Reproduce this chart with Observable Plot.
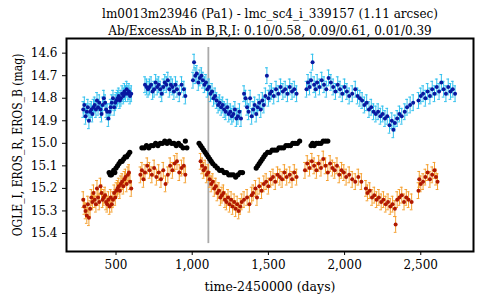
<!DOCTYPE html>
<html>
<head>
<meta charset="utf-8">
<script src="https://cdn.jsdelivr.net/npm/d3@7"></script>
<script src="https://cdn.jsdelivr.net/npm/@observablehq/plot@0.6"></script>
<style>
html,body{margin:0;padding:0;background:#fff;}
svg{display:block;}
</style>
</head>
<body>
<div id="chart"></div>
<script>
const titleLines = ["lm0013m23946 (Pa1) - lmc_sc4_i_339157 (1.11 arcsec)",
  "Ab/ExcessAb in B,R,I: 0.10/0.58, 0.09/0.61, 0.01/0.39"];
const xLabel = "time-2450000 (days)";
const yLabel = "OGLE_I, EROS_R, EROS_B (mag)";
const xTicks = [500, 1000, 1500, 2000, 2500];
const yTicks = [14.6, 14.7, 14.8, 14.9, 15.0, 15.1, 15.2, 15.3, 15.4];
const xDomain = [175, 2846];
const yDomain = [14.535, 15.48];
const markerDay = 1106;
const blueErr = 0.035;
const redErr = 0.035;

// EROS_B: [time, mag]
const erosB = [
 [285,14.85],[292,14.83],[300,14.88],[308,14.86],[315,14.84],[322,14.90],[330,14.86],[338,14.85],[345,14.87],[352,14.84],
 [360,14.83],[368,14.85],[375,14.81],[382,14.84],[390,14.82],[398,14.85],[405,14.87],[412,14.83],[420,14.80],[428,14.82],
 [435,14.85],[442,14.86],[450,14.89],[458,14.86],[465,14.84],[472,14.82],[480,14.80],[488,14.84],[495,14.82],[502,14.81],
 [510,14.80],[518,14.79],[525,14.81],[532,14.80],[540,14.78],[548,14.79],[555,14.77],[562,14.78],[570,14.76],[578,14.78],
 [585,14.77],[592,14.79],[600,14.78],
 [690,14.74],[700,14.75],[710,14.76],[720,14.75],[730,14.74],[740,14.77],[750,14.76],[760,14.73],[770,14.75],[780,14.74],
 [790,14.76],[800,14.78],[810,14.75],[820,14.73],[830,14.74],[840,14.72],[850,14.76],[860,14.74],[870,14.75],[880,14.77],
 [890,14.74],[900,14.76],[915,14.78],[930,14.74],[945,14.76],[955,14.79],
 [1005,14.72],[1012,14.64],[1020,14.70],[1030,14.69],[1040,14.73],[1050,14.71],[1060,14.70],[1070,14.72],[1080,14.74],[1090,14.73],
 [1100,14.76],[1110,14.75],[1120,14.78],[1130,14.77],[1140,14.80],[1150,14.79],[1160,14.81],[1170,14.83],[1180,14.82],[1190,14.84],
 [1200,14.83],[1210,14.85],[1220,14.86],[1230,14.84],[1240,14.87],[1250,14.86],[1260,14.88],[1270,14.87],[1280,14.85],[1290,14.89],
 [1300,14.88],[1310,14.86],[1320,14.89],
 [1340,14.78],[1350,14.80],[1360,14.84],[1370,14.86],[1380,14.80],[1390,14.88],[1400,14.85],[1410,14.83],[1420,14.87],[1430,14.84],
 [1440,14.82],[1450,14.85],[1460,14.81],[1470,14.83],[1480,14.79],[1490,14.70],[1500,14.80],[1510,14.78],[1520,14.77],[1535,14.79],
 [1550,14.76],[1565,14.78],[1580,14.75],[1595,14.77],[1610,14.76],[1625,14.78],[1640,14.75],[1655,14.77],[1670,14.76],[1685,14.78],
 [1750,14.76],[1760,14.73],[1770,14.75],[1780,14.72],[1790,14.64],[1800,14.74],[1810,14.76],[1820,14.73],[1835,14.75],[1850,14.72],
 [1865,14.74],[1880,14.76],[1895,14.71],[1910,14.73],[1925,14.75],[1940,14.77],[1955,14.74],[1970,14.76],[1985,14.78],[2000,14.75],
 [2015,14.77],[2030,14.79],[2050,14.78],[2070,14.76],[2085,14.79],
 [2100,14.80],[2115,14.81],[2130,14.83],[2145,14.82],[2160,14.85],[2175,14.84],[2190,14.86],[2205,14.87],[2220,14.86],[2235,14.88],
 [2250,14.87],[2265,14.89],[2280,14.88],[2295,14.92],[2310,14.90],[2320,14.94],[2330,14.91],[2345,14.89],[2360,14.87],[2375,14.88],
 [2395,14.86],[2410,14.84],[2430,14.83],[2450,14.82],
 [2485,14.81],[2500,14.79],[2515,14.78],[2530,14.80],[2545,14.77],[2560,14.79],[2575,14.76],[2590,14.78],[2605,14.75],[2620,14.77],
 [2635,14.73],[2650,14.76],[2665,14.78],[2680,14.75],[2695,14.77],[2710,14.76],[2725,14.78]
];

// OGLE_I: [time, mag]
const ogleI = [
 [455,15.13],[462,15.14],[470,15.14],[478,15.13],[485,15.12],[492,15.13],[500,15.11],[510,15.10],[520,15.09],[530,15.08],
 [540,15.08],[550,15.07],[560,15.06],[570,15.06],[580,15.05],[590,15.04],
 [670,15.02],[685,15.02],[700,15.01],[715,15.02],[730,15.01],[745,15.01],[760,15.00],[775,15.01],[790,15.00],[805,15.00],
 [820,14.99],[835,15.00],[850,14.99],[865,15.00],[880,15.00],[895,15.01],[910,15.00],[925,15.01],[940,15.02],[955,14.99],[965,15.02],
 [1045,15.00],[1055,15.01],[1065,15.02],[1075,15.03],[1085,15.04],[1095,15.05],[1105,15.06],[1115,15.07],[1125,15.08],[1135,15.09],
 [1150,15.10],[1165,15.11],[1180,15.12],[1195,15.12],[1210,15.13],[1225,15.13],[1240,15.14],[1255,15.14],[1270,15.14],[1285,15.15],
 [1300,15.14],[1315,15.13],[1330,15.13],
 [1420,15.11],[1430,15.10],[1440,15.09],[1450,15.08],[1460,15.07],[1470,15.06],[1480,15.05],[1495,15.04],[1510,15.04],[1525,15.03],
 [1540,15.03],[1555,15.03],[1570,15.02],[1585,15.02],[1600,15.02],[1615,15.01],[1630,15.01],[1645,15.01],[1660,15.00],[1675,15.00],
 [1690,15.00],[1705,14.99],
 [1780,15.01],[1790,15.00],[1800,15.01],[1815,15.00],[1830,15.00],[1845,15.00],[1860,14.99],[1875,14.99],[1890,14.99]
];

// EROS_R: [time, mag]
const erosR = [
 [285,15.25],[292,15.28],[300,15.30],[308,15.32],[315,15.27],[322,15.33],[330,15.29],[338,15.24],[345,15.26],[352,15.22],
 [360,15.25],[368,15.27],[375,15.20],[382,15.24],[390,15.26],[398,15.19],[405,15.22],[412,15.25],[420,15.24],[428,15.23],
 [435,15.26],[442,15.27],[450,15.25],[458,15.28],[465,15.24],[472,15.27],[480,15.25],[488,15.22],[495,15.24],[502,15.21],
 [510,15.20],[518,15.19],[525,15.21],[532,15.18],[540,15.17],[548,15.19],[555,15.16],[562,15.15],[570,15.18],[578,15.14],
 [585,15.13],[592,15.17],[600,15.20],
 [660,15.14],[670,15.12],[680,15.16],[690,15.13],[705,15.10],[720,15.12],[735,15.14],[750,15.11],[765,15.15],[780,15.13],
 [795,15.16],[810,15.12],[825,15.18],[840,15.14],[855,15.10],[870,15.12],[885,15.09],[900,15.08],[915,15.13],[930,15.11],
 [945,15.10],[955,15.14],
 [1055,15.08],[1065,15.10],[1075,15.12],[1085,15.11],[1095,15.14],[1105,15.13],[1115,15.16],[1125,15.18],[1135,15.17],[1145,15.20],
 [1155,15.19],[1165,15.22],[1175,15.21],[1185,15.24],[1195,15.23],[1205,15.22],[1215,15.25],[1225,15.26],[1235,15.24],[1245,15.27],
 [1255,15.25],[1265,15.28],[1275,15.26],[1285,15.29],[1295,15.27],[1305,15.30],[1315,15.28],[1325,15.26],
 [1340,15.25],[1360,15.24],[1375,15.27],[1390,15.23],[1400,15.22],[1415,15.20],[1425,15.24],[1440,15.19],[1455,15.21],[1470,15.18],
 [1485,15.17],[1500,15.19],[1515,15.16],[1530,15.15],[1545,15.17],[1560,15.14],[1575,15.15],[1590,15.16],[1605,15.13],[1620,15.15],
 [1640,15.14],[1655,15.16],[1670,15.13],[1685,15.15],
 [1740,15.12],[1755,15.09],[1770,15.11],[1785,15.08],[1800,15.10],[1815,15.12],[1830,15.09],[1845,15.11],[1860,15.07],[1875,15.10],
 [1890,15.13],[1905,15.09],[1920,15.11],[1935,15.12],[1950,15.10],[1965,15.14],[1980,15.12],[1995,15.13],[2010,15.15],[2030,15.14],
 [2050,15.16],[2070,15.17],[2090,15.15],[2110,15.17],
 [2140,15.20],[2150,15.22],[2165,15.21],[2180,15.24],[2195,15.23],[2210,15.25],[2225,15.24],[2240,15.26],[2255,15.25],[2270,15.27],
 [2285,15.26],[2300,15.28],[2315,15.27],[2330,15.29],[2335,15.36],[2345,15.25],[2360,15.24],[2375,15.23],[2390,15.26],[2405,15.24],
 [2420,15.25],[2440,15.26],
 [2485,15.21],[2490,15.16],[2500,15.18],[2515,15.17],[2530,15.15],[2545,15.13],[2560,15.16],[2575,15.14],[2590,15.12],[2600,15.15],[2610,15.17]
];

const toRows = (arr, err) => arr.map(([t, m]) => ({t, m, lo: m - err, hi: m + err}));
const B = toRows(erosB, blueErr);
const R = toRows(erosR, redErr);
const I = toRows(ogleI, 0);
const cap = 9;

const font = "'DejaVu Serif', 'Liberation Serif', 'Times New Roman', serif";
const condensed = "'DejaVu Serif Condensed', 'DejaVu Serif', serif";

const chart = Plot.plot({
  width: 480,
  height: 300,
  marginLeft: 66,
  marginRight: 7,
  marginTop: 38,
  marginBottom: 49,
  style: {fontFamily: font, fontSize: "12px", color: "black", background: "white"},
  x: {domain: xDomain, ticks: xTicks, tickFormat: d3.format(","), tickSize: 4, label: null},
  y: {domain: yDomain, reverse: true, ticks: yTicks, tickFormat: d => d.toFixed(1), tickSize: 4, label: null},
  marks: [
    Plot.ruleX([markerDay], {y1: 14.575, y2: 15.445, stroke: "#aaaaaa", strokeWidth: 1.8}),
    Plot.ruleX(B, {x: "t", y1: "lo", y2: "hi", stroke: "#30c0ee", strokeWidth: 1}),
    Plot.ruleY(B, {y: "lo", x1: d => d.t - cap, x2: d => d.t + cap, stroke: "#30c0ee", strokeWidth: 1}),
    Plot.ruleY(B, {y: "hi", x1: d => d.t - cap, x2: d => d.t + cap, stroke: "#30c0ee", strokeWidth: 1}),
    Plot.ruleX(R, {x: "t", y1: "lo", y2: "hi", stroke: "#f5a030", strokeWidth: 1}),
    Plot.ruleY(R, {y: "lo", x1: d => d.t - cap, x2: d => d.t + cap, stroke: "#f5a030", strokeWidth: 1}),
    Plot.ruleY(R, {y: "hi", x1: d => d.t - cap, x2: d => d.t + cap, stroke: "#f5a030", strokeWidth: 1}),
    Plot.dot(B, {x: "t", y: "m", r: 2, fill: "#0818a0", stroke: "none"}),
    Plot.dot(R, {x: "t", y: "m", r: 2, fill: "#b01800", stroke: "none"}),
    Plot.dot(I, {x: "t", y: "m", r: 2.6, fill: "black", stroke: "none"}),
    Plot.frame({stroke: "black", strokeWidth: 2}),
    Plot.axisX({ticks: xTicks, tickFormat: d3.format(","), tickSize: 4, fontSize: 12, fontFamily: font, label: null}),
    Plot.axisY({ticks: yTicks, tickFormat: d => d.toFixed(1), tickSize: 4, fontSize: 12, fontFamily: font, label: null}),
    Plot.text([titleLines[0]], {frameAnchor: "top", dy: -29, fontSize: 12, fill: "black", fontFamily: font}),
    Plot.text([titleLines[1]], {frameAnchor: "top", dy: -12, fontSize: 12, fill: "black", fontFamily: font}),
    Plot.text([xLabel], {frameAnchor: "bottom", dy: 39, fontSize: 12.5, fill: "black", fontFamily: font}),
    Plot.text([yLabel], {frameAnchor: "left", dx: -48, rotate: -90, textAnchor: "middle", fontSize: 12, fill: "black", fontFamily: condensed})
  ]
});
document.getElementById("chart").appendChild(chart);
</script>
</body>
</html>
